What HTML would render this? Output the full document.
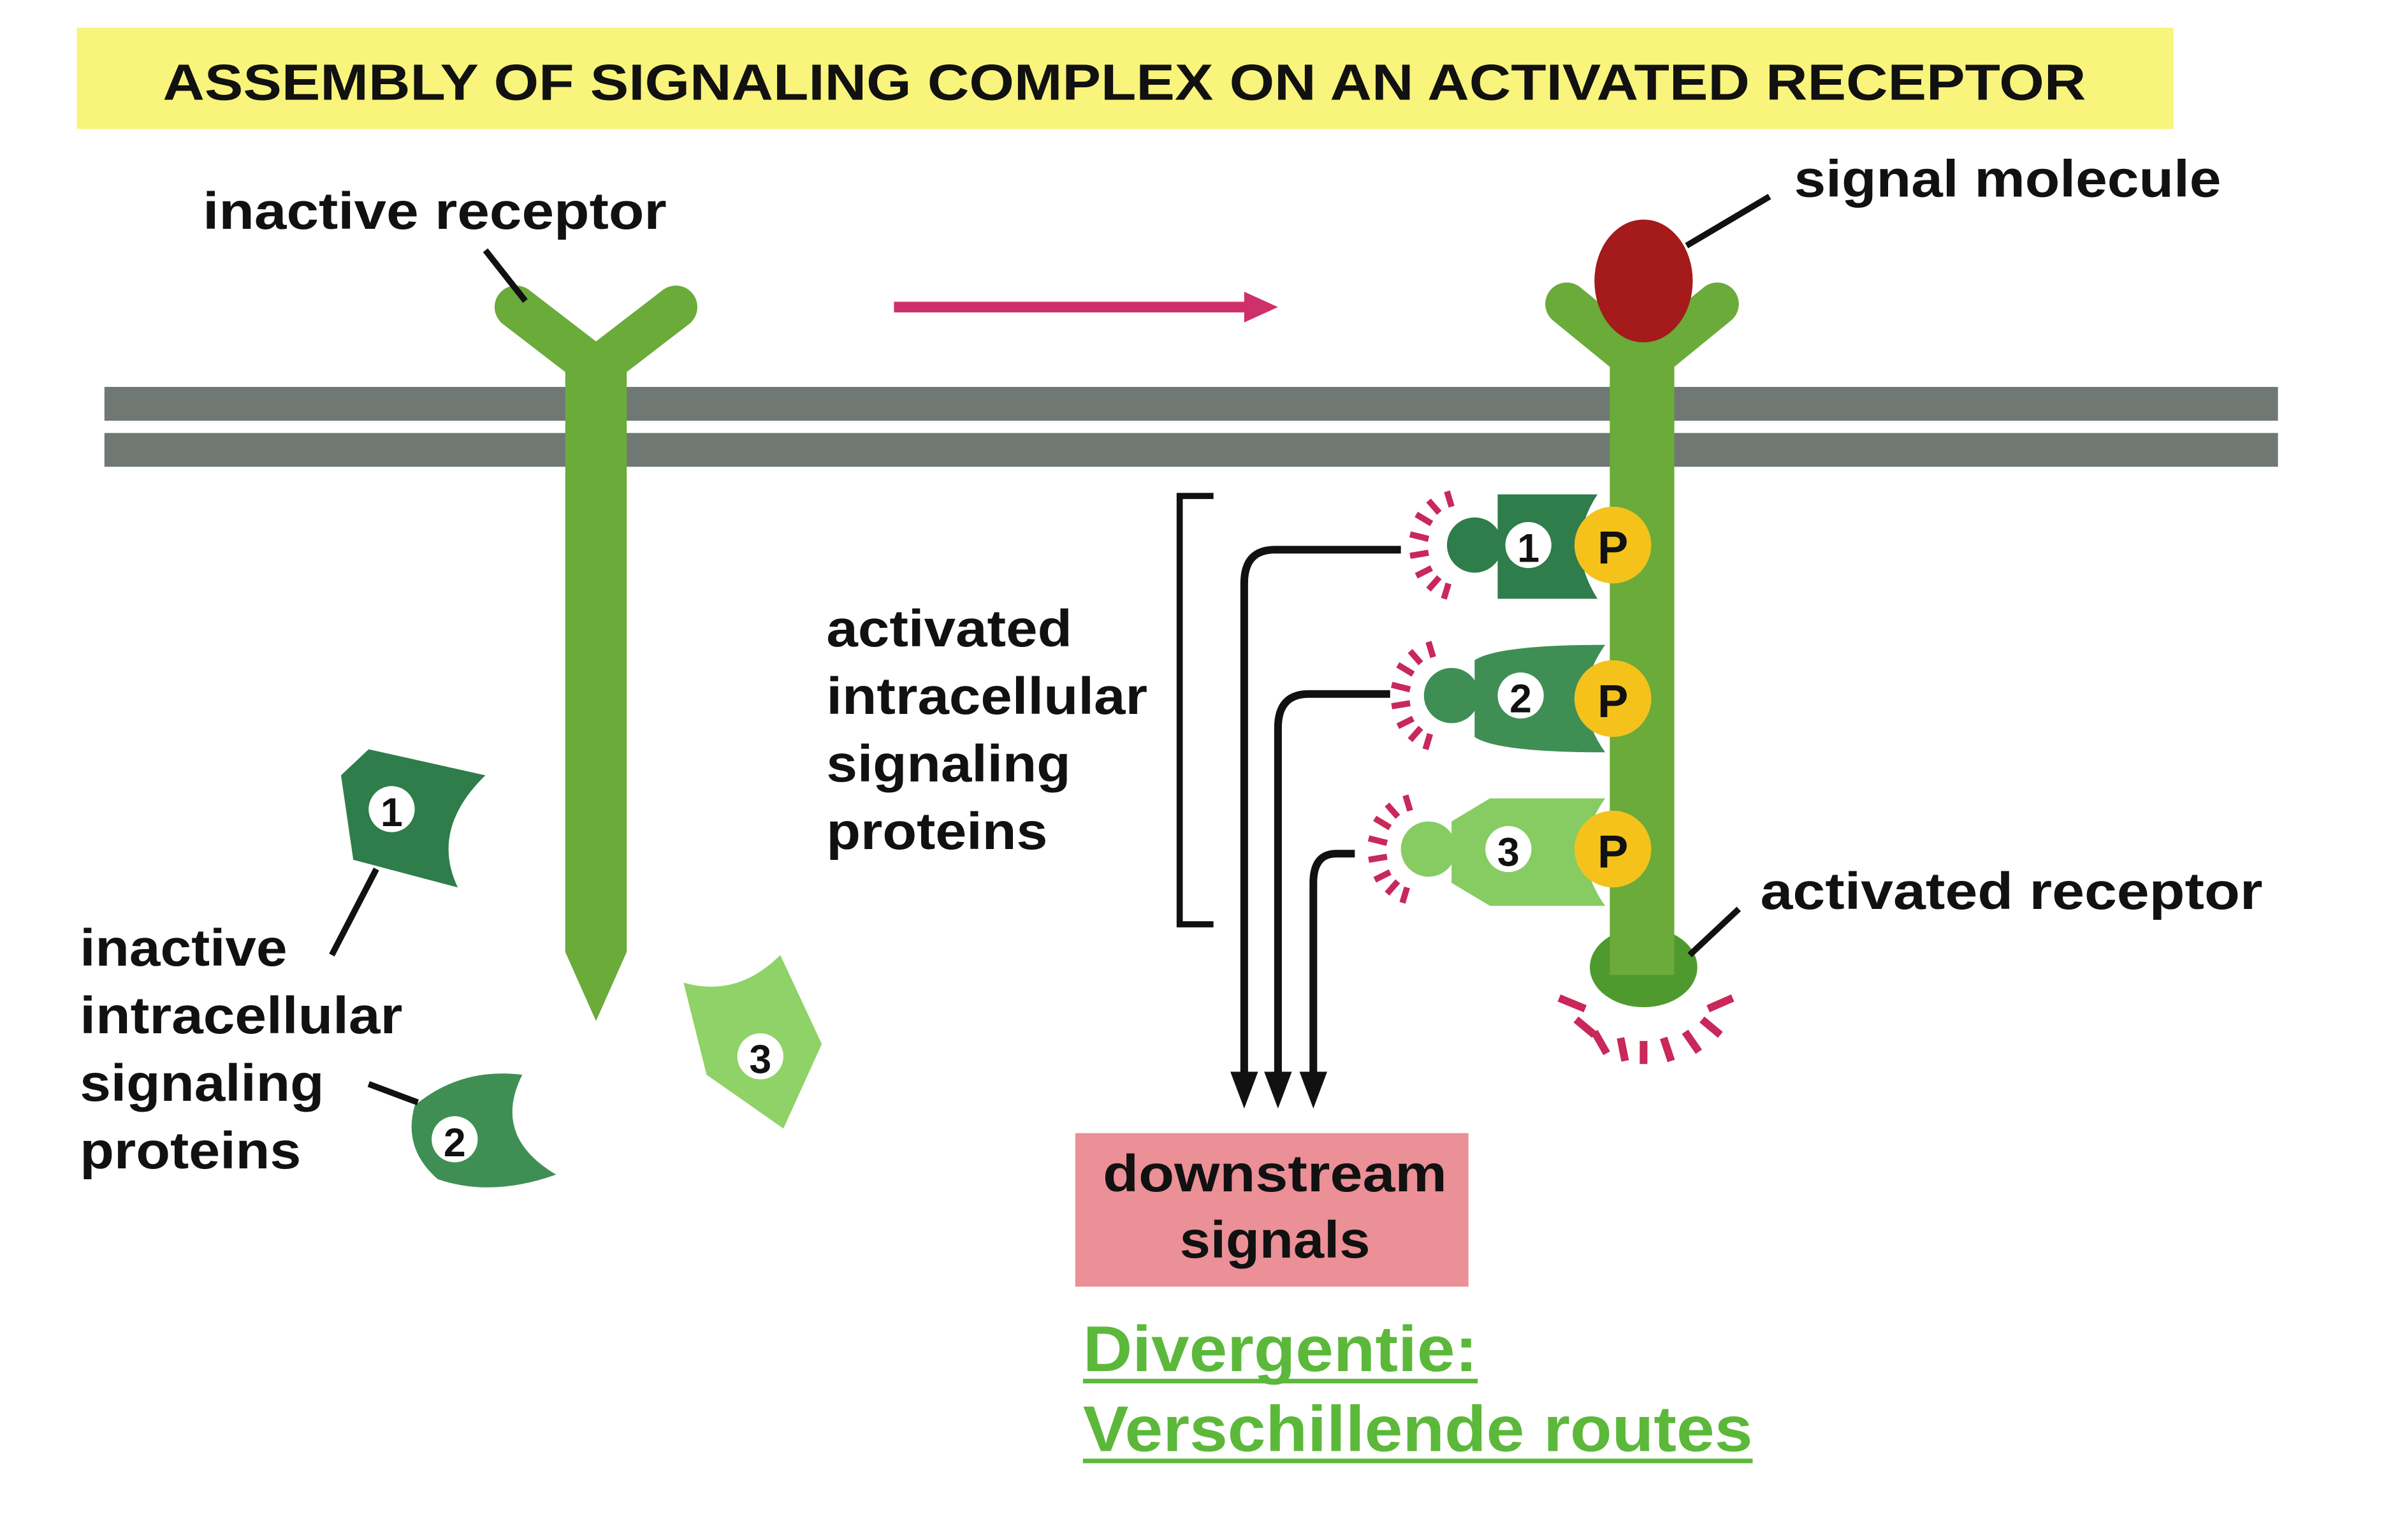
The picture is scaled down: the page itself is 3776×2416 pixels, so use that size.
<!DOCTYPE html>
<html><head><meta charset="utf-8"><style>
html,body{margin:0;padding:0;background:#fff}
svg{display:block}
text{font-family:"Liberation Sans",sans-serif;font-weight:bold}
</style></head><body>
<svg width="3776" height="2416" viewBox="0 0 1567 1003" preserveAspectRatio="none" xmlns="http://www.w3.org/2000/svg">
<rect width="1567" height="1003" fill="#fff"/>
<g>
<rect x="50" y="18" width="1365" height="66" fill="#f8f47c"/>
<text x="106" y="65" font-size="33" fill="#111" textLength="1252" lengthAdjust="spacingAndGlyphs">ASSEMBLY OF SIGNALING COMPLEX ON AN ACTIVATED RECEPTOR</text>
</g>
<g>
<rect x="68" y="252" width="1415" height="22" fill="#6f7873"/>
<rect x="68" y="282" width="1415" height="22" fill="#6f7873"/>
</g>
<g>
<path d="M368 230 L408 230 L408 620 L388 665 L368 620 Z" fill="#6aab3a"/>
<path d="M336 200 L388 240 L440 200" fill="none" stroke="#6aab3a" stroke-width="28" stroke-linecap="round" stroke-linejoin="round"/>
</g>
<g>
<line x1="582" y1="200" x2="812" y2="200" stroke="#d0306a" stroke-width="7"/>
<polygon points="810,190 832,200 810,210" fill="#d0306a"/>
</g>
<g>
<ellipse cx="1070" cy="630" rx="35" ry="26" fill="#4f9a2e"/>
<rect x="1048" y="215" width="42" height="420" fill="#6aab3a"/>
<path d="M1020 198 L1069 238 L1118 198" fill="none" stroke="#6aab3a" stroke-width="28" stroke-linecap="round" stroke-linejoin="round"/>
<g stroke="#c8285a" stroke-width="5">
<line x1="1015" y1="650" x2="1032" y2="657"/><line x1="1026" y1="664" x2="1038" y2="674"/>
<line x1="1038" y1="672" x2="1046" y2="686"/><line x1="1055" y1="676" x2="1058" y2="691"/>
<line x1="1070" y1="678" x2="1070" y2="693"/><line x1="1083" y1="676" x2="1088" y2="691"/>
<line x1="1097" y1="672" x2="1106" y2="685"/><line x1="1108" y1="664" x2="1120" y2="674"/>
<line x1="1112" y1="657" x2="1128" y2="650"/>
</g>
</g>
<ellipse cx="1070" cy="183" rx="32" ry="40" fill="#a51a1a"/>
<g>
<path d="M975 322 L1040 322 Q1018 355 1040 390 L975 390 Z" fill="#2e7d4a"/>
<circle cx="960" cy="355" r="18" fill="#2e7d4a"/>
<circle cx="995" cy="355" r="15" fill="#fff"/><text x="995" y="366" font-size="26" text-anchor="middle" fill="#111">1</text>
</g>
<g>
<path d="M960 430 Q975 420 1045 420 Q1020 455 1045 490 Q975 490 960 480 Z" fill="#3f8f55"/>
<circle cx="945" cy="453" r="18" fill="#3f8f55"/>
<circle cx="990" cy="453" r="15" fill="#fff"/><text x="990" y="464" font-size="26" text-anchor="middle" fill="#111">2</text>
</g>
<g>
<path d="M945 535 L970 520 L1045 520 Q1020 555 1045 590 L970 590 L945 575 Z" fill="#86cc62"/>
<circle cx="930" cy="553" r="18" fill="#86cc62"/>
<circle cx="982" cy="553" r="15" fill="#fff"/><text x="982" y="564" font-size="26" text-anchor="middle" fill="#111">3</text>
</g>
<g stroke="#c8285a" stroke-width="4">
<path d="M922 335 l10 6 M918 348 l12 3 M918 362 l12 -2 M922 375 l10 -5 M930 384 l7 -8 M940 390 l3 -10 M930 326 l7 8 M942 320 l3 10" />
<path d="M910 433 l10 6 M906 446 l12 3 M906 460 l12 -2 M910 473 l10 -5 M918 482 l7 -8 M928 488 l3 -10 M918 424 l7 8 M930 418 l3 10" />
<path d="M895 533 l10 6 M891 546 l12 3 M891 560 l12 -2 M895 573 l10 -5 M903 582 l7 -8 M913 588 l3 -10 M903 524 l7 8 M915 518 l3 10" />
</g>
<g>
<circle cx="1050" cy="355" r="25" fill="#f5c21c"/><text x="1050" y="367" font-size="30" text-anchor="middle" fill="#111">P</text>
<circle cx="1050" cy="455" r="25" fill="#f5c21c"/><text x="1050" y="467" font-size="30" text-anchor="middle" fill="#111">P</text>
<circle cx="1050" cy="553" r="25" fill="#f5c21c"/><text x="1050" y="565" font-size="30" text-anchor="middle" fill="#111">P</text>
</g>
<path d="M790 323 L768 323 L768 602 L790 602" fill="none" stroke="#111" stroke-width="4"/>
<g fill="none" stroke="#111" stroke-width="5">
<path d="M912 358 L830 358 Q810 358 810 380 L810 700"/>
<path d="M905 452 L852 452 Q832 452 832 474 L832 700"/>
<path d="M882 556 L870 556 Q855 556 855 575 L855 700"/>
</g>
<g fill="#111">
<polygon points="801,698 819,698 810,722"/><polygon points="823,698 841,698 832,722"/><polygon points="846,698 864,698 855,722"/>
</g>
<g>
<rect x="700" y="738" width="256" height="100" fill="#eb9096"/>
<text x="830" y="776" font-size="34" text-anchor="middle" fill="#111" textLength="224" lengthAdjust="spacingAndGlyphs">downstream</text>
<text x="830" y="819" font-size="34" text-anchor="middle" fill="#111" textLength="124" lengthAdjust="spacingAndGlyphs">signals</text>
</g>
<g fill="#5cb83a" font-size="42">
<text x="705" y="893" textLength="257" lengthAdjust="spacingAndGlyphs">Divergentie:</text>
<text x="705" y="945" textLength="436" lengthAdjust="spacingAndGlyphs">Verschillende routes</text>
<rect x="705" y="898" width="257" height="3"/>
<rect x="705" y="950" width="436" height="3"/>
</g>
<g>
<path d="M222 505 L240 488 L316 505 Q280 540 298 578 L230 560 Z" fill="#2e7d4a"/>
<circle cx="255" cy="527" r="15" fill="#fff"/><text x="255" y="538" font-size="26" text-anchor="middle" fill="#111">1</text>
</g>
<g>
<path d="M270 720 Q300 695 340 700 Q320 740 362 765 Q320 780 285 768 Q262 748 270 720 Z" fill="#3f8f55"/>
<circle cx="296" cy="742" r="15" fill="#fff"/><text x="296" y="753" font-size="26" text-anchor="middle" fill="#111">2</text>
</g>
<g>
<path d="M445 640 Q480 650 508 622 L535 680 L510 735 L460 700 Z" fill="#8fd268"/>
<circle cx="495" cy="688" r="15" fill="#fff"/><text x="495" y="699" font-size="26" text-anchor="middle" fill="#111">3</text>
</g>
<g fill="#111" font-size="34">
<text x="132" y="149" textLength="302" lengthAdjust="spacingAndGlyphs">inactive receptor</text>
<text x="1168" y="128" textLength="278" lengthAdjust="spacingAndGlyphs">signal molecule</text>
<text x="538" y="421" textLength="160" lengthAdjust="spacingAndGlyphs">activated</text>
<text x="538" y="465" textLength="209" lengthAdjust="spacingAndGlyphs">intracellular</text>
<text x="538" y="509" textLength="159" lengthAdjust="spacingAndGlyphs">signaling</text>
<text x="538" y="553" textLength="144" lengthAdjust="spacingAndGlyphs">proteins</text>
<text x="1146" y="592" textLength="327" lengthAdjust="spacingAndGlyphs">activated receptor</text>
<text x="52" y="629" textLength="135" lengthAdjust="spacingAndGlyphs">inactive</text>
<text x="52" y="673" textLength="210" lengthAdjust="spacingAndGlyphs">intracellular</text>
<text x="52" y="717" textLength="159" lengthAdjust="spacingAndGlyphs">signaling</text>
<text x="52" y="761" textLength="144" lengthAdjust="spacingAndGlyphs">proteins</text>
</g>
<g stroke="#111" stroke-width="4">
<line x1="316" y1="163" x2="342" y2="196"/>
<line x1="1152" y1="128" x2="1098" y2="160"/>
<line x1="1132" y1="592" x2="1100" y2="622"/>
<line x1="245" y1="566" x2="216" y2="622"/>
<line x1="240" y1="706" x2="272" y2="718"/>
</g>
</svg>
</body></html>
